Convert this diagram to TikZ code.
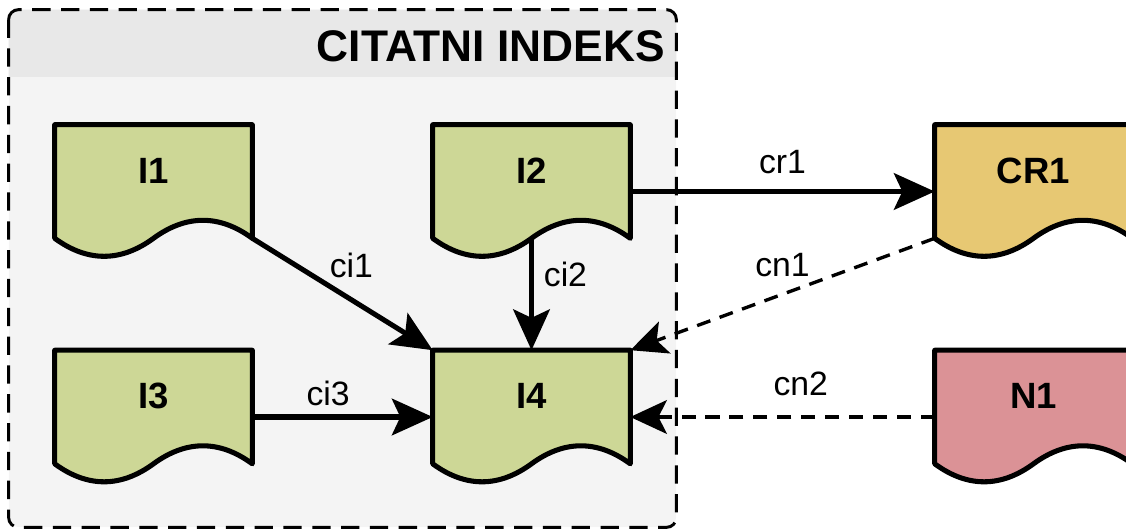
\documentclass[tikz,border=0pt]{standalone}
\usepackage{fontspec}
\setmainfont{Liberation Sans}
\usetikzlibrary{arrows.meta,positioning,calc,backgrounds}
\definecolor{idxgreen}{RGB}{205,215,150}
\definecolor{idxgold}{RGB}{231,200,115}
\definecolor{idxrose}{RGB}{219,146,150}
\definecolor{idxhead}{RGB}{232,232,232}
\definecolor{idxbody}{RGB}{244,244,244}
% document shapes sit between the container and the edges
\pgfdeclarelayer{docs}
\pgfsetlayers{background,docs,main}
\tikzset{
  doc/.style={rectangle,minimum width=4.925cm,minimum height=3.325cm,inner sep=0pt,
              text height=18pt,text depth=30pt,font=\fontsize{26}{31}\selectfont\bfseries},
  docline/.style={line width=3.6pt,line join=round,fill=#1},
  docline/.default=idxgreen,
  idxbox/.style={rectangle,minimum width=16.675cm,minimum height=12.925cm,
                 inner sep=0pt,fill=idxbody,rounded corners=7pt},
  idxframe/.style={line width=2.1pt,rounded corners=7pt,dash pattern=on 13pt off 7.5pt},
  title/.style={inner sep=0pt,font=\fontsize{31.5}{36}\selectfont\bfseries},
  arr/.style={-{Stealth[length=29pt,width=26pt,inset=6pt]},line width=3.6pt},
  darr/.style={-{Stealth[length=26pt,width=24pt,inset=6pt]},line width=2.4pt,
               dash pattern=on 10pt off 7pt},
  lbl/.style={font=\fontsize{24}{28}\selectfont,inner sep=2pt},
}
% wavy bottom of a document node, plus the points where its sides end
\newcommand{\docshape}[2]{%
  \coordinate (#1-l) at ($(#1.south west)+(0,-20)$);
  \coordinate (#1-m) at ($(#1.south)+(0,-20)$);
  \coordinate (#1-r) at ($(#1.south east)+(0,-20)$);
  \begin{pgfonlayer}{docs}
    \filldraw[docline=#2] (#1.north west) -- (#1.north east) -- (#1-r)
      .. controls +(-32.8,-24) and +(32.8,-24) .. (#1-m)
      .. controls +(-32.8,24) and +(32.8,24) .. (#1-l) -- cycle;
  \end{pgfonlayer}}

\begin{document}
\begin{tikzpicture}[x=0.025cm,y=-0.025cm]
  \useasboundingbox (0,0) rectangle (1126,531);
  \clip (0,0) rectangle (1126,531);

  % citation index container
  \begin{pgfonlayer}{background}
    \node[idxbox] (idx) at (342.5,268.5) {};
    \begin{scope}
      \clip (idx.north west) rectangle ($(idx.north east)+(0,67)$);
      \fill[idxhead,rounded corners=7pt] (idx.north west) rectangle (idx.south east);
    \end{scope}
    \draw[idxframe] (idx.north west) rectangle (idx.south east);
  \end{pgfonlayer}
  \node[title,anchor=east] (ttl) at (665,46) {CITATNI INDEKS};

  \node[doc] (i1) at (153.5,191.5) {I1};
  \node[doc] (i2) at (531.5,191.5) {I2};
  \node[doc] (i3) at (153.5,417) {I3};
  \node[doc] (i4) at (531.5,417) {I4};
  \node[doc] (cr1) at (1033.5,191.5) {CR1};
  \node[doc] (n1) at (1033.5,417) {N1};
  \docshape{i1}{idxgreen}
  \docshape{i2}{idxgreen}
  \docshape{i3}{idxgreen}
  \docshape{i4}{idxgreen}
  \docshape{cr1}{idxgold}
  \docshape{n1}{idxrose}

  \draw[arr] (i1-r) -- node[lbl,pos=0.4,above right=0pt] {ci1} (i4.north west);
  \draw[arr] (i2-m) -- node[lbl,pos=0.32,right=5pt] {ci2} (i4.north);
  \draw[arr] (i3.east) -- node[lbl,pos=0.42,above=4pt] {ci3} (i4.west);
  \draw[arr] (i2.east) -- node[lbl,above=8.5pt] {cr1} (cr1.west);
  \draw[darr] (cr1-l) -- node[lbl,pos=0.5,above=9.5pt] {cn1} (i4.north east);
  \draw[darr] (n1.west) -- node[lbl,pos=0.44,above=12pt] {cn2} (i4.east);
\end{tikzpicture}
\end{document}
